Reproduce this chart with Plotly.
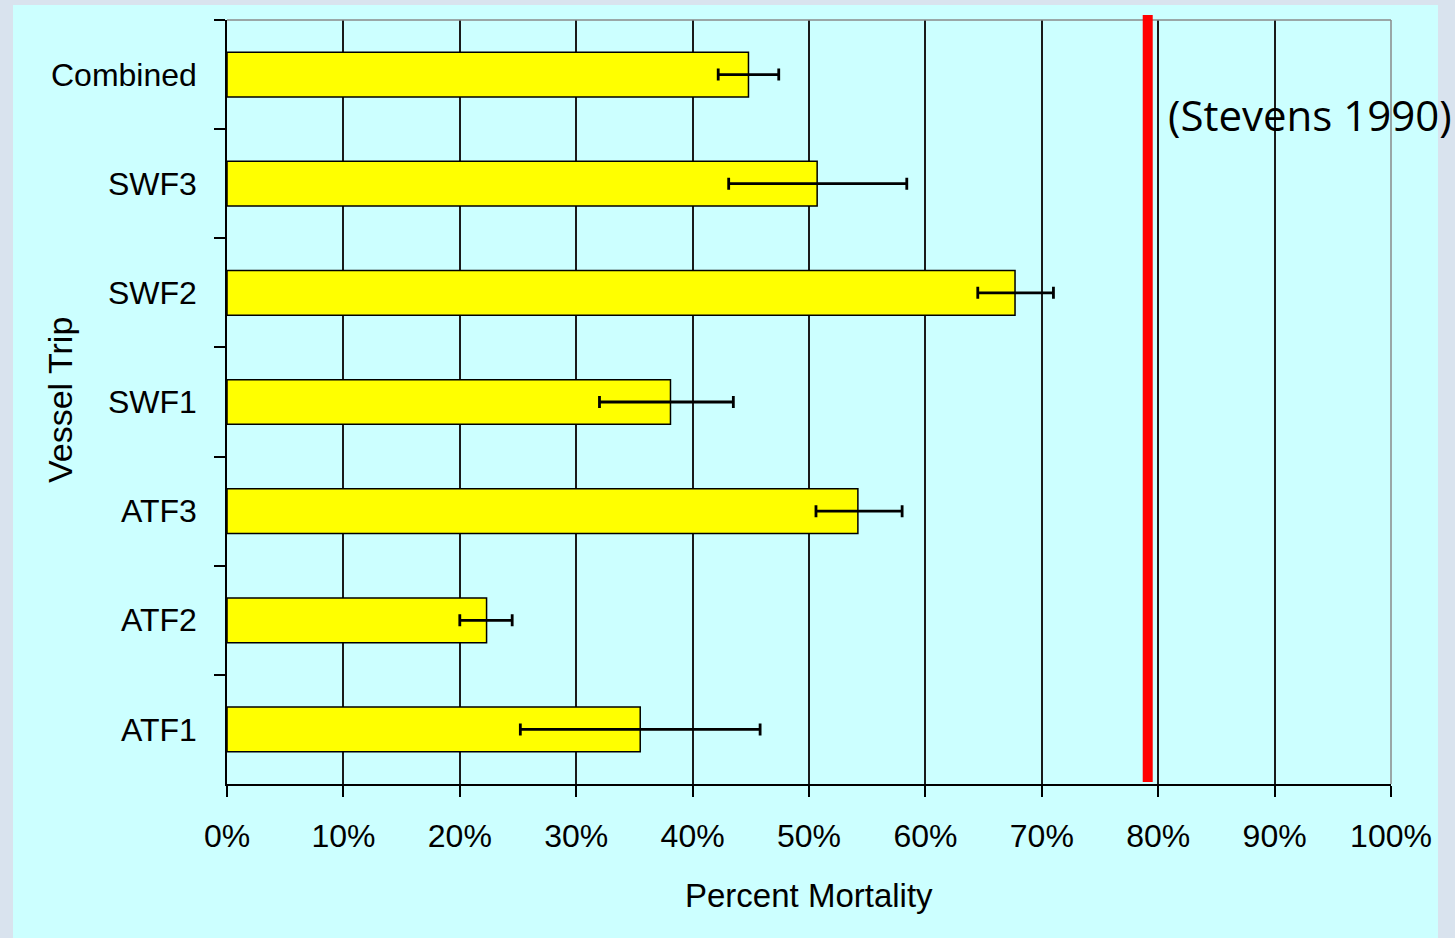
import plotly.graph_objects as go

# ---- data ----
categories = ["Combined", "SWF3", "SWF2", "SWF1", "ATF3", "ATF2", "ATF1"]
mortality = [44.8, 50.7, 67.7, 38.1, 54.2, 22.3, 35.5]
err_plus = [2.6, 7.7, 3.3, 5.4, 3.8, 2.2, 10.3]
err_minus = [2.6, 7.6, 3.2, 6.1, 3.6, 2.3, 10.3]
x_ticks = [0, 10, 20, 30, 40, 50, 60, 70, 80, 90, 100]
x_ticktext = [f"{v}%" for v in x_ticks]
stevens_value = 79.1
stevens_label = "(Stevens 1990)"
x_title = "Percent Mortality"
y_title = "Vessel Trip"

FONT = "Liberation Sans, Arial, sans-serif"

fig = go.Figure()
fig.add_trace(go.Bar(
    y=categories,
    x=mortality,
    orientation="h",
    marker=dict(color="#FFFF00", line=dict(color="#000000", width=1.5)),
    error_x=dict(type="data", symmetric=False, array=err_plus, arrayminus=err_minus,
                 color="#000000", thickness=2.8, width=6),
    showlegend=False,
    hoverinfo="x+y",
))

W, H = 1455, 938
L, R, T, B = 227, 64, 20, 154

def px_x(p):
    return (p - L) / (W - L - R)

def px_y(p):
    return (H - B - p) / (H - T - B)

shapes = [
    # cyan panel over the grey textured border
    dict(type="rect", xref="paper", yref="paper",
         x0=px_x(13), x1=px_x(1438), y0=px_y(940), y1=px_y(5),
         fillcolor="#CCFFFF", line=dict(width=0), layer="below"),
    # top and right frame
    dict(type="line", xref="paper", yref="paper", x0=0, x1=1, y0=1, y1=1,
         line=dict(color="#8a8a8a", width=1.5), layer="above"),
    dict(type="line", xref="paper", yref="paper", x0=1, x1=1, y0=0, y1=1,
         line=dict(color="#8a8a8a", width=1.5), layer="above"),
    # Stevens reference line
    dict(type="line", xref="x", yref="paper", x0=stevens_value, x1=stevens_value,
         y0=px_y(782), y1=px_y(15), line=dict(color="#FF0000", width=10), layer="above"),
]

annotations = [
    dict(text=stevens_label, xref="paper", yref="paper", x=px_x(1166), y=px_y(115),
         xanchor="left", yanchor="middle", showarrow=False,
         font=dict(family="Open Sans, sans-serif", size=42, color="#000000")),
    dict(text=x_title, xref="paper", yref="paper", x=0.5, y=px_y(895),
         xanchor="center", yanchor="middle", showarrow=False,
         font=dict(family=FONT, size=33, color="#000000")),
    dict(text=y_title, xref="paper", yref="paper", x=px_x(60), y=px_y(400),
         xanchor="center", yanchor="middle", showarrow=False, textangle=-90,
         font=dict(family=FONT, size=34, color="#000000")),
]

fig.update_layout(
    width=W, height=H,
    margin=dict(l=L, r=R, t=T, b=B, pad=0),
    paper_bgcolor="#d9e3ee",
    plot_bgcolor="#CCFFFF",
    bargap=0.59,
    shapes=shapes,
    annotations=annotations,
    font=dict(family=FONT, size=32, color="#000000"),
    xaxis=dict(
        range=[0, 100], tickmode="array", tickvals=x_ticks, ticktext=x_ticktext,
        showgrid=True, gridcolor="#1a1a1a", gridwidth=1.5,
        showline=True, linecolor="#000000", linewidth=1.5,
        ticks="outside", ticklen=11, tickwidth=1.5, tickcolor="#000000",
        tickfont=dict(family=FONT, size=32, color="#000000"),
        zeroline=False, ticklabelstandoff=12, fixedrange=True,
    ),
    yaxis=dict(
        type="category", categoryorder="array", categoryarray=categories,
        autorange="reversed",
        showgrid=False, showline=True, linecolor="#000000", linewidth=1.5,
        ticks="outside", tickson="boundaries", ticklen=11, tickwidth=1.5, tickcolor="#000000",
        tickfont=dict(family=FONT, size=32, color="#000000"),
        ticklabelstandoff=22, zeroline=False, fixedrange=True,
    ),
)

fig.write_html(
    "out.html",
    config={"displayModeBar": False},
    post_script="document.body.style.margin='0';document.body.style.overflow='hidden';",
)
